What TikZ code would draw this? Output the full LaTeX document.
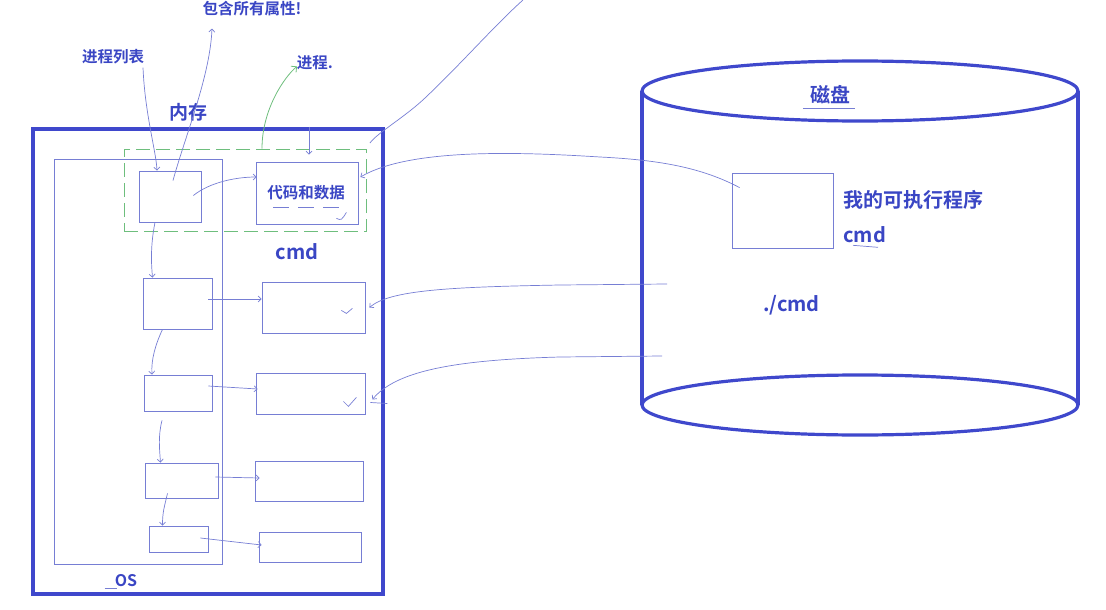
\documentclass[tikz,border=0pt]{standalone}
\usepackage{fontspec}
\newfontfamily\cjkb{Noto Sans CJK SC Bold}
\usetikzlibrary{arrows.meta,calc}
\definecolor{thick}{RGB}{63,72,204}
\definecolor{thinb}{RGB}{118,126,212}
\definecolor{txtb}{RGB}{58,70,196}
\definecolor{grn}{RGB}{110,190,125}
\tikzset{
  bigbox/.style={draw=thick, line width=3.8pt, inner sep=0pt},
  box/.style={draw=thinb, line width=0.8pt, inner sep=0pt},
  lbl/.style={text=txtb, font=\cjkb, inner sep=0pt},
  conn/.style={draw=thinb, line width=0.7pt, -{Straight Barb[length=3pt,width=6pt]}},
  plain/.style={draw=thinb, line width=0.7pt},
  gconn/.style={draw=grn, line width=0.8pt, -{Straight Barb[length=4pt,width=8pt]}},
  cyl/.style={draw=thick, line width=3.2pt},
}
\begin{document}
\begin{tikzpicture}[x=1pt,y=-1pt]
\useasboundingbox (0,0) rectangle (1106,610);
% memory
\node[bigbox, minimum width=350pt, minimum height=465pt] (mem) at (208,361.5) {};
\node[box, minimum width=168pt, minimum height=405pt] (os) at (138,361.5) {};
\node[draw=grn, line width=0.8pt, dash pattern=on 14pt off 6pt, minimum width=242pt, minimum height=82pt, inner sep=0pt] (grp) at (245,190) {};
\node[box, minimum width=62pt, minimum height=51pt] (p1) at (170,196.5) {};
\node[box, minimum width=102pt, minimum height=62pt] (cd) at (307,193) {};
\node[box, minimum width=69pt, minimum height=51pt] (p2) at (177.5,303.5) {};
\node[box, minimum width=103pt, minimum height=51pt] (d2) at (313.5,307.5) {};
\node[box, minimum width=68pt, minimum height=36pt] (p3) at (178,393) {};
\node[box, minimum width=109pt, minimum height=41pt] (d3) at (310.5,393.5) {};
\node[box, minimum width=73pt, minimum height=35pt] (p4) at (181.5,480.5) {};
\node[box, minimum width=108pt, minimum height=40pt] (d4) at (309,481) {};
\node[box, minimum width=59pt, minimum height=26pt] (p5) at (178.5,539) {};
\node[box, minimum width=102pt, minimum height=30pt] (d5) at (310,547) {};
% labels
\node[lbl, font=\cjkb\fontsize{15.5}{16}\selectfont] (tlist) at (113,57) {进程列表};
\node[lbl, font=\cjkb\fontsize{15.5}{16}\selectfont] (tattr) at (252,9) {包含所有属性!};
\node[lbl, font=\cjkb\fontsize{15.5}{16}\selectfont] (tproc) at (315,63) {进程.};
\node[lbl, font=\cjkb\fontsize{19}{20}\selectfont] (tmem) at (188,112) {内存};
\node[lbl, font=\cjkb\fontsize{15.5}{16}\selectfont] (tcd) at (306,193) {代码和数据};
\node[lbl, font=\cjkb\fontsize{20}{21}\selectfont] (tcmd) at (297,252) {cmd};
\node[lbl, font=\cjkb\fontsize{16}{17}\selectfont] (tos) at (126,581) {OS};
\draw[plain] ($(tos.south west)+(-10,1)$) -- ($(tos.south west)+(2,1)$);
% dashed underline under code text
\draw[plain, dash pattern=on 16pt off 9pt] ($(tcd.south west)+(6,7)$) -- ($(tcd.south east)+(-6,7)$);
% checks
\draw[plain] ($(cd.south east)+(-22,-6)$) .. controls ($(cd.south east)+(-17,-4)$) .. ($(cd.south east)+(-12,-12)$);
\draw[plain] ($(d2.south east)+(-24,-23)$) -- ($(d2.south east)+(-19,-20)$) -- ($(d2.south east)+(-13,-25)$);
\draw[plain] ($(d3.south east)+(-22,-13)$) -- ($(d3.south east)+(-17,-8)$) -- ($(d3.south east)+(-9,-17)$);
% connectors inside memory
\draw[conn] (tlist.south) ++(30,3) .. controls ($(tlist.south)+(32,50)$) and ($(p1.north)+(-14,-20)$) .. ($(p1.north)+(-13,0)$);
\draw[conn] ($(p1.center)+(3,-16)$) .. controls ($(p1.center)+(15,-60)$) and ($(tattr.south)+(-42,60)$) .. ($(tattr.south)+(-40,12)$);
\draw[gconn] ($(grp.north)+(17,0)$) .. controls ($(grp.north)+(17,-40)$) and ($(tproc.south)+(-30,6)$) .. ($(tproc.south)+(-18,-4)$);
\draw[conn] ($(p1.east)+(-8,-1)$) .. controls ($(p1.east)+(8,-14)$) and ($(cd.west)+(-20,-16)$) .. ($(cd.west)+(1,-16)$);
\coordinate (tk) at ($(cd.north)+(2,-35)$);
\draw[conn] (tk) -- ($(cd.north)+(2,-7)$);
\draw[conn] ($(p1.south)+(-15,0)$) .. controls ($(p1.south)+(-20,25)$) and ($(p2.north)+(-26,-12)$) .. ($(p2.north)+(-25,0)$);
\draw[conn] ($(p2.south)+(-15,0)$) .. controls ($(p2.south)+(-22,15)$) and ($(p3.north)+(-27,-15)$) .. ($(p3.north)+(-26,0)$);
\draw[conn] ($(p3.south)+(-16,9)$) .. controls ($(p3.south)+(-20,25)$) and ($(p4.north)+(-22,-14)$) .. ($(p4.north)+(-21,0)$);
\draw[conn] ($(p4.south)+(-14,-5)$) .. controls ($(p4.south)+(-17,8)$) and ($(p5.north)+(-16,-14)$) .. ($(p5.north)+(-16,0)$);
\draw[conn] ($(p2.east)+(-4,-4.5)$) -- ($(d2.west)+(0,-8.5)$);
\draw[conn] ($(p3.east)+(-4,-7)$) -- ($(d3.west)+(2,-4.5)$);
\draw[conn] ($(p4.east)+(-3,-3.5)$) -- ($(d4.west)+(5,-3)$);
\draw[conn] ($(p5.east)+(-8,-1)$) -- ($(d5.west)+(3,-2)$);
% line going up from memory
\coordinate (topend) at (523,0);
\draw[plain] ($(mem.north east)+(-15,16)$) .. controls ($(mem.north east)+(-8,6)$) and ($(mem.north east)+(20,-10)$) .. ($(mem.north east)+(40,-29)$) .. controls ($(mem.north east)+(75,-62)$) and (495,25) .. (topend);
% disk
\draw[cyl] (642,91) -- (642,405);
\draw[cyl] (1078,91) -- (1078,405);
\draw[cyl] (860,91) ellipse [x radius=218pt, y radius=30pt];
\draw[cyl] (860,405) ellipse [x radius=218pt, y radius=30pt];
\node[lbl, font=\cjkb\fontsize{20}{21}\selectfont] (tdisk) at (830,95) {磁盘};
\draw[plain] ($(tdisk.south west)+(-7,4)$) -- ($(tdisk.south east)+(5,4)$);
\node[box, minimum width=101pt, minimum height=75pt] (exe) at (782.5,210.5) {};
\node[lbl, font=\cjkb\fontsize{20}{21}\selectfont, anchor=west] (texe) at (843,200) {我的可执行程序};
\node[lbl, font=\cjkb\fontsize{20}{21}\selectfont, anchor=west] (tcmd2) at (843,235) {cmd};
\draw[plain] ($(tcmd2.south west)+(10,2)$) -- ($(tcmd2.south west)+(35,4)$);
\node[lbl, font=\cjkb\fontsize{20}{21}\selectfont, anchor=west] (trun) at (763,305) {./cmd};
% disk to memory connectors
\coordinate (dk2) at (667,284);
\coordinate (dk3) at (662,356);
\draw[conn] ($(exe.north west)+(8,15)$) .. controls ($(exe.north west)+(-30,-5)$) and (660,160) .. (600,157) .. controls (520,152) and (410,148) .. ($(cd.east)+(2,-16)$);
\draw[conn] (dk2) -- (560,285) .. controls (450,287) and (390,290) .. ($(d2.east)+(4,0)$);
\draw[conn] (dk3) -- (560,357) .. controls (450,360) and (395,372) .. ($(d3.east)+(7,6)$);
\draw[plain] ($(d3.east)+(5,9)$) -- ($(d3.east)+(22,10)$);
\end{tikzpicture}
\end{document}
